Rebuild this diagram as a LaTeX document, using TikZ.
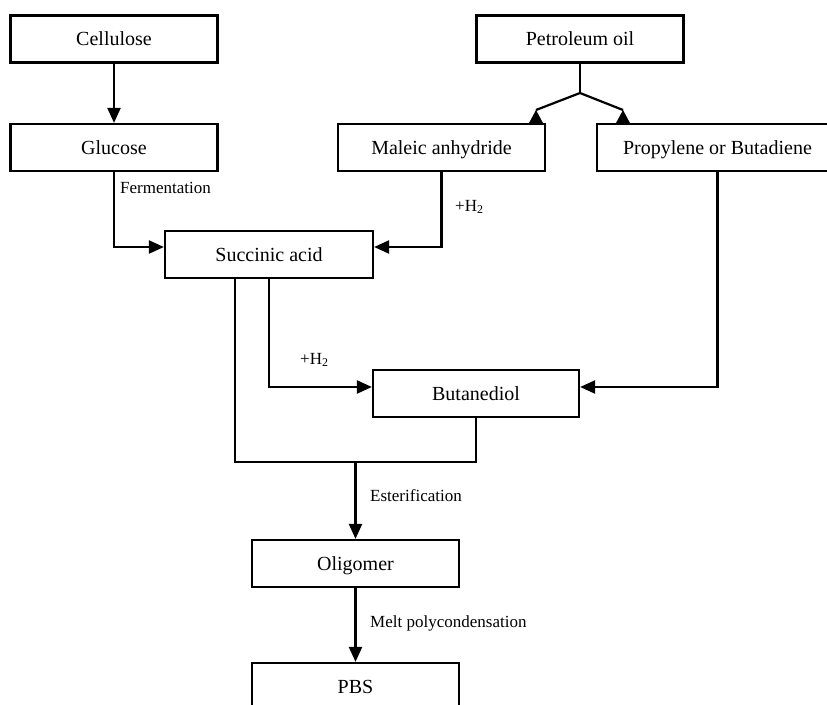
\documentclass[tikz,border=0pt]{standalone}
\usepackage{fontspec}
\setmainfont{Liberation Serif}
\usetikzlibrary{arrows.meta,calc}
\begin{document}
\begin{tikzpicture}[x=1pt,y=-1pt,
  box/.style={draw,line width=2.2pt,fill=white,minimum width=207pt,minimum height=47pt,
    inner sep=0pt,text height=13.2pt,text depth=0pt,font=\fontsize{20}{24}\selectfont},
  link/.style={line width=2.2pt},
  arr/.style={link,-{Triangle[length=15pt,width=13pt]}},
  lbl/.style={font=\fontsize{17}{20}\selectfont,inner sep=0pt,anchor=base west}]
\useasboundingbox (0,0) rectangle (827,704);
\fill[white] (0,0) rectangle (827,704);

% process boxes
\node[box] (cell)  at (114,39)      {Cellulose};
\node[box] (gluc)  at (114,147.5)   {Glucose};
\node[box] (petro) at (580,39)      {Petroleum oil};
\node[box] (male)  at (441.5,147.5) {Maleic anhydride};
\node[box,minimum width=241pt] (prop) at (717.5,147.5) {Propylene or Butadiene};
\node[box,minimum width=208pt] (succ) at (269,254.5) {Succinic acid};
\node[box,minimum width=206pt] (buta) at (476,393.5) {Butanediol};
\node[box] (olig)  at (355.5,563.5) {Oligomer};
\node[box] (pbs)   at (355.5,686.5) {PBS};

% branch points
\coordinate (fork) at (580,93);
\coordinate (mtip) at (536,110);
\coordinate (ptip) at (623,110);
\coordinate (join) at (355.5,462);

% connectors
\draw[arr] (cell) -- (gluc);
\draw[link] (petro.south) -- (fork);
\draw[link] (fork) -- (mtip);
\draw[link] (fork) -- (ptip);
\fill (mtip) -- ++(-7.5,14) -- ++(15,0) -- cycle;
\fill (ptip) -- ++(-7.5,14) -- ++(15,0) -- cycle;
\draw[arr] (gluc.south) |- ($(succ.west)+(0,-7.5)$);
\draw[arr] (male.south) |- ($(succ.east)+(0,-7.5)$);
\draw[arr] (succ.south) |- ($(buta.west)+(0,-6.5)$);
\draw[arr] (prop.south) |- ($(buta.east)+(0,-6.5)$);
\draw[link] ($(succ.south)+(-34,0)$) |- (buta.south |- join) -- (buta.south);
\draw[arr] (join) -- (olig.north);
\draw[arr] (olig) -- (pbs);

% reaction labels
\node[lbl] (fer)  at (120,193) {Fermentation};
\node[lbl] (h2a)  at (455,211) {+H\textsubscript{2}};
\node[lbl] (h2b)  at (300,364) {+H\textsubscript{2}};
\node[lbl] (est)  at (370,501) {Esterification};
\node[lbl] (melt) at (370,627) {Melt polycondensation};
\end{tikzpicture}
\end{document}
